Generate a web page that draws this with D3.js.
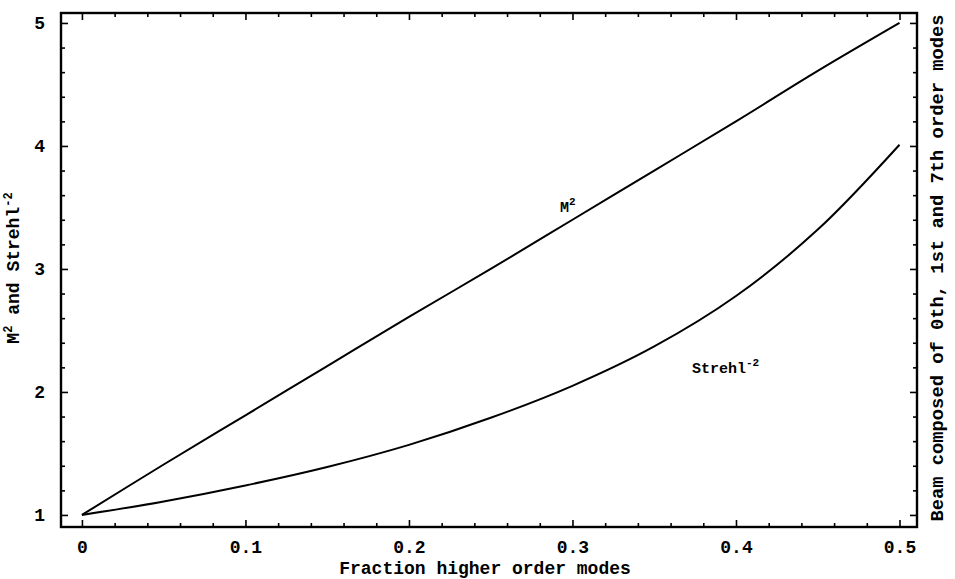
<!DOCTYPE html>
<html>
<head>
<meta charset="utf-8">
<script src="https://cdn.jsdelivr.net/npm/d3@7/dist/d3.min.js"></script>
<style>
  html, body { margin: 0; padding: 0; background: #fff; }
  svg { display: block; }
  text { font-family: "Liberation Mono", "Courier New", monospace; font-weight: bold; fill: #000; }
</style>
</head>
<body>
<svg id="chart" width="955" height="579"></svg>
<script>
// Fraction of power in higher order modes
const fraction = [0, 0.05, 0.1, 0.15, 0.2, 0.25, 0.3, 0.35, 0.4, 0.45, 0.5];
// Beam quality factor M^2
const m2Values = [1.0, 1.41, 1.81, 2.21, 2.61, 3.0, 3.40, 3.80, 4.20, 4.61, 5.0];
// Inverse square of the Strehl ratio
const strehlValues = [1.0, 1.11, 1.24, 1.39, 1.57, 1.79, 2.05, 2.37, 2.78, 3.32, 4.01];

const xMajorTicks = [0, 0.1, 0.2, 0.3, 0.4, 0.5];
const yMajorTicks = [1, 2, 3, 4, 5];
const xTickLabels = ["0", "0.1", "0.2", "0.3", "0.4", "0.5"];
const yTickLabels = ["1", "2", "3", "4", "5"];

const svg = d3.select("#chart");
const frame = { left: 61, right: 917, top: 13, bottom: 527 };

const x = d3.scaleLinear().domain([-0.0128, 0.5107]).range([frame.left, frame.right]);
const y = d3.scaleLinear().domain([0.902, 5.081]).range([frame.bottom, frame.top]);

const xMinor = d3.range(0, 0.5001, 0.02).filter(v => Math.abs(v * 10 - Math.round(v * 10)) > 1e-6);
const yMinor = d3.range(1, 5.0001, 0.2).filter(v => Math.abs(v - Math.round(v)) > 1e-6);

function tickAxis(gen, scale, transform, majors, minors, labels) {
  const g = svg.append("g").attr("transform", transform);
  g.call(gen(scale).tickValues(majors).tickSize(-7).tickFormat((d, i) => labels ? labels[i] : ""));
  g.append("g").call(gen(scale).tickValues(minors).tickSize(-4).tickFormat(""));
  g.selectAll(".domain").remove();
  g.selectAll("line").attr("stroke", "#000").attr("stroke-width", 1.6);
  g.selectAll("text").style("font-size", "18px").attr("fill", "#000");
  return g;
}

// Ticks on all four sides, pointing into the frame
const bAx = tickAxis(d3.axisBottom, x, `translate(0,${frame.bottom})`, xMajorTicks, xMinor, xTickLabels);
bAx.selectAll("text").attr("dy", 0).attr("y", 26);
tickAxis(d3.axisTop, x, `translate(0,${frame.top})`, xMajorTicks, xMinor, null);
const lAx = tickAxis(d3.axisLeft, y, `translate(${frame.left},0)`, yMajorTicks, yMinor, yTickLabels);
lAx.selectAll("text").attr("x", -16);
tickAxis(d3.axisRight, y, `translate(${frame.right},0)`, yMajorTicks, yMinor, null);

// Frame
svg.append("rect")
  .attr("x", frame.left).attr("y", frame.top)
  .attr("width", frame.right - frame.left).attr("height", frame.bottom - frame.top)
  .attr("fill", "none").attr("stroke", "#000").attr("stroke-width", 2.4);

// Curves
const line = d3.line().curve(d3.curveCatmullRom.alpha(0.5));
const series = [m2Values, strehlValues];
svg.selectAll("path.curve").data(series).enter().append("path")
  .attr("class", "curve")
  .attr("fill", "none").attr("stroke", "#000").attr("stroke-width", 2)
  .attr("d", vals => line(vals.map((v, i) => [x(fraction[i]), y(v)])));

// Curve labels
const m2Label = svg.append("text").attr("x", 560).attr("y", 212).style("font-size", "15px");
m2Label.append("tspan").text("M");
m2Label.append("tspan").text("2").attr("dy", -7).style("font-size", "11px");

const stLabel = svg.append("text").attr("x", 692).attr("y", 373).style("font-size", "15px");
stLabel.append("tspan").text("Strehl");
stLabel.append("tspan").text("-2").attr("dy", -7).style("font-size", "11px");

// Axis titles
svg.append("text").attr("x", 485).attr("y", 574).attr("text-anchor", "middle")
  .style("font-size", "18px").text("Fraction higher order modes");

const yTitle = svg.append("text").attr("transform", "translate(19,268) rotate(-90)")
  .attr("text-anchor", "middle").style("font-size", "18px");
yTitle.append("tspan").text("M");
yTitle.append("tspan").text("2").attr("dy", -7).style("font-size", "12px");
yTitle.append("tspan").text(" and Strehl").attr("dy", 7);
yTitle.append("tspan").text("-2").attr("dy", -7).style("font-size", "12px");

svg.append("text").attr("transform", "translate(943,268) rotate(-90)")
  .attr("text-anchor", "middle").style("font-size", "18.8px")
  .text("Beam composed of 0th, 1st and 7th order modes");
</script>
</body>
</html>
